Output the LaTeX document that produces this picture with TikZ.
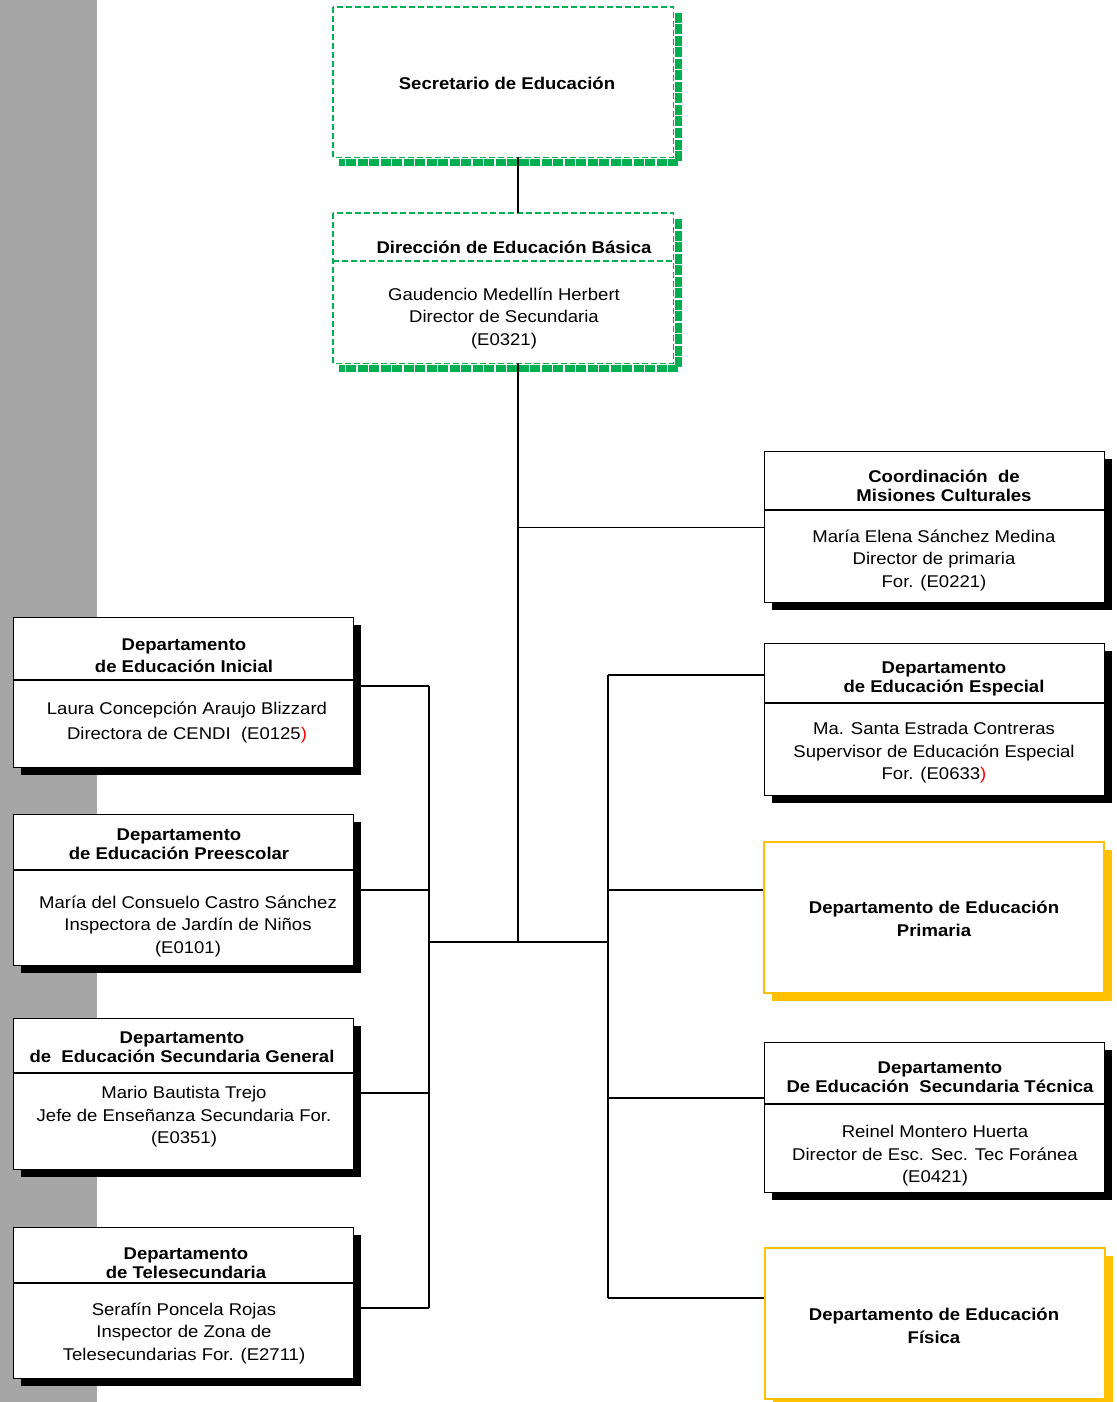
\documentclass[tikz,border=0pt]{standalone}
\usepackage{fontspec}
\setmainfont{Liberation Sans}[FakeStretch=1.09]
\usetikzlibrary{shadows}
\definecolor{stripgray}{RGB}{166,166,166}
\definecolor{sepgreen}{RGB}{0,176,80}
\definecolor{depyellow}{RGB}{255,192,0}

\tikzset{
  card/.style={draw=black, line width=1.3pt, fill=white, anchor=north west,
    inner sep=0pt, minimum width=340pt,
    drop shadow={shadow xshift=7.5pt, shadow yshift=-7.5pt, fill=black, opacity=1}},
  goldcard/.style={draw=depyellow, line width=2.2pt, fill=white, anchor=north west,
    inner sep=0pt, minimum width=340pt,
    drop shadow={shadow xshift=8pt, shadow yshift=-8pt, fill=depyellow, opacity=1}},
  greencard/.style={fill=white, anchor=north west, inner sep=0pt,
    minimum width=340pt, minimum height=150pt},
  gline/.style={draw=sepgreen, line width=1.8pt, dash pattern=on 6pt off 3pt},
  gshade/.style={draw=sepgreen, line width=7pt, dash pattern=on 10pt off 1.5pt},
  rule/.style={line width=1.2pt},
  link/.style={line width=1.3pt},
  head/.style={font=\fontsize{17}{19.5}\selectfont\bfseries, align=center},
  body/.style={font=\fontsize{17}{22.5}\selectfont, align=center}
}

\begin{document}
\begin{tikzpicture}[x=1pt,y=-1pt]
  \useasboundingbox (0,0) rectangle (1116,1402);
  \fill[stripgray] (0,0) rectangle (97,1402);

  % top of the chart
  \node[greencard] (sec) at (333,7) {};
  \draw[gline] (sec.north west) rectangle (sec.south east);
  \draw[gshade] ([shift={(5pt,-6pt)}]sec.north east) |- ([shift={(6pt,-5pt)}]sec.south west);
  \node[head] (sec-t) at (507,83) {Secretario de Educación};

  \node[greencard] (dir) at (333,213) {};
  \draw[gline] (dir.north west) rectangle (dir.south east);
  \draw[gshade] ([shift={(5pt,-6pt)}]dir.north east) |- ([shift={(6pt,-5pt)}]dir.south west);
  \draw[gline] (dir.west |- 0,261) -- (dir.east |- 0,261);
  \node[head] (dir-t) at (514,247) {Dirección de Educación Básica};
  \node[body] (dir-b) at (504,318) {Gaudencio Medellín Herbert\\Director de Secundaria\\(E0321)};

  % connectors
  \coordinate (trunk) at (518,942);
  \coordinate (lb) at (429,942);
  \coordinate (rb) at (608,942);
  \draw[link] (sec.south -| trunk) -- (dir.north -| trunk);
  \draw[link] (dir.south -| trunk) -- (trunk);
  \draw[link] (lb) -- (rb);
  \draw[link] (lb |- 0,686) -- (lb |- 0,1308);
  \draw[link] (rb |- 0,675) -- (rb |- 0,1298);

  % right column
  \node[card, minimum height=151pt] (coo) at (764,451) {};
  \draw[rule] (coo.west |- 0,510) -- (coo.east |- 0,510);
  \node[head] (coo-t) at (944,486) {Coordinación\ \ de\\Misiones Culturales};
  \node[body] (coo-b) at (934,560) {María Elena Sánchez Medina\\Director de primaria\\For. (E0221)};

  \node[card, minimum height=152pt] (esp) at (764,643) {};
  \draw[rule] (esp.west |- 0,703) -- (esp.east |- 0,703);
  \node[head] (esp-t) at (944,679) {Departamento\\de Educación Especial};
  \node[body] (esp-b) at (934,753) {Ma. Santa Estrada Contreras\\Supervisor de Educación Especial\\For. (E0633\textcolor{red}{)}};

  \node[goldcard, minimum height=151pt] (pri) at (763,841) {};
  \node[head, font=\fontsize{17}{22.5}\selectfont\bfseries] (pri-t) at (934,919)
    {Departamento de Educación\\Primaria};

  \node[card, minimum height=150pt] (tec) at (764,1042) {};
  \draw[rule] (tec.west |- 0,1104) -- (tec.east |- 0,1104);
  \node[head] (tec-t) at (940,1077) {Departamento\\De Educación\ \ Secundaria Técnica};
  \node[body] (tec-b) at (935,1156) {Reinel Montero Huerta\\Director de Esc. Sec. Tec Foránea\\(E0421)};

  \node[goldcard, minimum height=151pt] (fis) at (764,1247) {};
  \node[head, font=\fontsize{17}{22.5}\selectfont\bfseries] (fis-t) at (934,1326)
    {Departamento de Educación\\Física};

  % left column
  \node[card, minimum height=150pt] (ini) at (13,617) {};
  \draw[rule] (ini.west |- 0,680) -- (ini.east |- 0,680);
  \node[head, font=\fontsize{17}{22}\selectfont\bfseries] (ini-t) at (184,656)
    {Departamento\\de Educación Inicial};
  \node[body, font=\fontsize{17}{25}\selectfont] (ini-b) at (187,722)
    {Laura Concepción Araujo Blizzard\\Directora de CENDI\ \ (E0125\textcolor{red}{)}};

  \node[card, minimum height=151pt] (pre) at (13,814) {};
  \draw[rule] (pre.west |- 0,870) -- (pre.east |- 0,870);
  \node[head] (pre-t) at (179,844) {Departamento\\de Educación Preescolar};
  \node[body] (pre-b) at (188,926) {María del Consuelo Castro Sánchez\\Inspectora de Jardín de Niños\\(E0101)};

  \node[card, minimum height=151pt] (sgen) at (13,1018) {};
  \draw[rule] (sgen.west |- 0,1073) -- (sgen.east |- 0,1073);
  \node[head] (sgen-t) at (182,1047) {Departamento\\de\ \ Educación Secundaria General};
  \node[body] (sgen-b) at (184,1117) {Mario Bautista Trejo\\Jefe de Enseñanza Secundaria For.\\(E0351)};

  \node[card, minimum height=151pt] (tel) at (13,1227) {};
  \draw[rule] (tel.west |- 0,1283) -- (tel.east |- 0,1283);
  \node[head] (tel-t) at (186,1263) {Departamento\\de Telesecundaria};
  \node[body] (tel-b) at (184,1333) {Serafín Poncela Rojas\\Inspector de Zona de\\Telesecundarias For. (E2711)};

  % hooks from the boxes to the buses
  \draw[link] (coo.west) -- (coo.west -| trunk);
  \draw[link] (ini.east |- 0,686) -- (lb |- 0,686);
  \draw[link] (pre.east |- 0,890) -- (lb |- 0,890);
  \draw[link] (sgen.east |- 0,1093) -- (lb |- 0,1093);
  \draw[link] (tel.east |- 0,1308) -- (lb |- 0,1308);
  \draw[link] (esp.west |- 0,675) -- (rb |- 0,675);
  \draw[link] (pri.west |- 0,890) -- (rb |- 0,890);
  \draw[link] (tec.west |- 0,1098) -- (rb |- 0,1098);
  \draw[link] (fis.west |- 0,1298) -- (rb |- 0,1298);
\end{tikzpicture}
\end{document}
